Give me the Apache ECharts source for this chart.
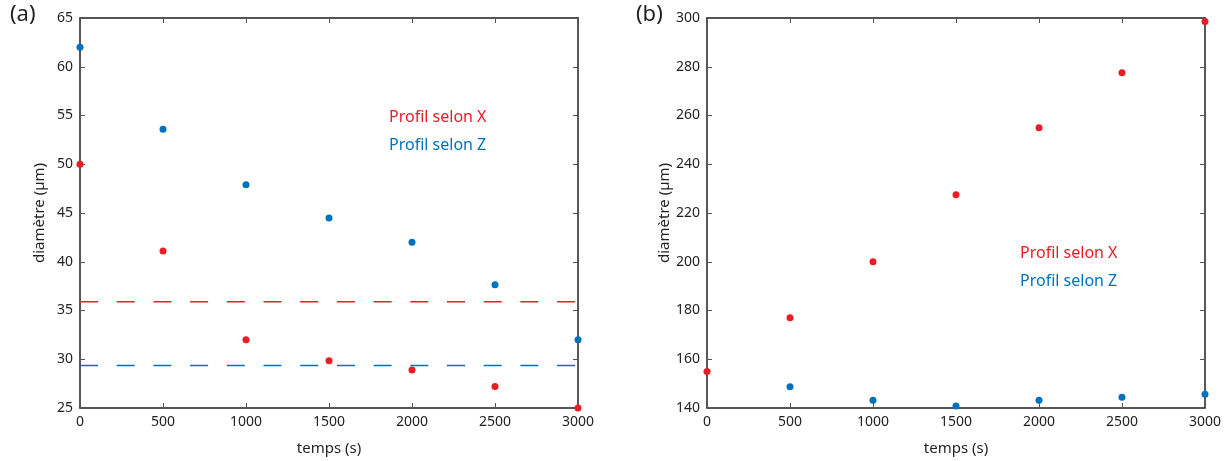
<!DOCTYPE html>
<html>
<head>
<meta charset="utf-8">
<style>
  html, body { margin: 0; padding: 0; background: #fff; }
  #chart { width: 1225px; height: 461px; }
</style>
<script src="https://cdn.jsdelivr.net/npm/echarts@6/dist/echarts.min.js"></script>
</head>
<body>
<div id="chart"></div>
<script>
// temps (s)
var temps = [0, 500, 1000, 1500, 2000, 2500, 3000];

// (a) diametre (um)
var aProfilX = [50.0, 41.1, 32.0, 29.85, 28.9, 27.2, 25.0];
var aProfilZ = [62.0, 53.6, 47.9, 44.5, 42.0, 37.65, 32.0];
var aNiveauX = 35.9;
var aNiveauZ = 29.35;

// (b) diametre (um)
var bProfilX = [155, 177, 200, 227.5, 255, 277.5, 298.6];
var bTempsZ = [500, 1000, 1500, 2000, 2500, 3000];
var bProfilZ = [148.7, 143.2, 140.8, 143.2, 144.4, 145.6];

var ROUGE = '#ed1c24';
var BLEU = '#0072bd';
var NOIR = '#231f20';
var FONT = 'Noto Sans';

function pts (xs, ys) {
  var out = [];
  for (var i = 0; i < ys.length; i++) out.push([xs[i], ys[i]]);
  return out;
}

function xAxe (grid, pos, nom) {
  return {
    type: 'value', gridIndex: grid, position: pos,
    min: 0, max: 3000, interval: 500,
    name: nom, nameLocation: 'middle', nameGap: 33,
    nameTextStyle: { fontFamily: FONT, fontSize: 15, color: NOIR },
    axisLine: { show: true, onZero: false, lineStyle: { color: NOIR, width: 1.5 } },
    axisTick: { show: true, inside: true, length: 5, lineStyle: { color: '#555' } },
    axisLabel: {
      show: pos === 'bottom', margin: 7, fontFamily: FONT, fontSize: 14, color: NOIR,
      formatter: function (v) { return String(v); }
    },
    splitLine: { show: false }
  };
}

function yAxe (grid, pos, min, max, step, nom) {
  return {
    type: 'value', gridIndex: grid, position: pos,
    min: min, max: max, interval: step,
    name: nom, nameLocation: 'middle', nameGap: pos === 'left' ? 33 : 0,
    nameTextStyle: { fontFamily: FONT, fontSize: 15, color: NOIR },
    axisLine: { show: true, onZero: false, lineStyle: { color: NOIR, width: 1.5 } },
    axisTick: { show: true, inside: true, length: 5, lineStyle: { color: '#555' } },
    axisLabel: { show: pos === 'left', margin: 7, fontFamily: FONT, fontSize: 14, color: NOIR },
    splitLine: { show: false }
  };
}

function nuage (xi, yi, data, couleur) {
  return {
    type: 'scatter', xAxisIndex: xi, yAxisIndex: yi,
    data: data, symbolSize: 7, clip: false,
    itemStyle: { color: couleur, opacity: 1 }
  };
}

function niveau (xi, yi, v, couleur) {
  return {
    type: 'line', xAxisIndex: xi, yAxisIndex: yi,
    data: [[0, v], [2985, v]], symbol: 'none', silent: true,
    lineStyle: { color: couleur, width: 1.5, type: [18, 18.7] }
  };
}

function texte (x, y, t, couleur, taille) {
  return {
    type: 'text', left: x, top: y,
    style: { text: t, fill: couleur, fontFamily: FONT, fontSize: taille }
  };
}

var myChart = echarts.init(document.getElementById('chart'));
myChart.setOption({
  animation: false,
  grid: [
    { left: 80, top: 18, width: 498, height: 391 },
    { left: 707, top: 18, width: 498, height: 391 }
  ],
  xAxis: [
    xAxe(0, 'bottom', 'temps (s)'),
    xAxe(0, 'top', ''),
    xAxe(1, 'bottom', 'temps (s)'),
    xAxe(1, 'top', '')
  ],
  yAxis: [
    yAxe(0, 'left', 25, 65, 5, 'diamètre (µm)'),
    yAxe(0, 'right', 25, 65, 5, ''),
    yAxe(1, 'left', 140, 300, 20, 'diamètre (µm)'),
    yAxe(1, 'right', 140, 300, 20, '')
  ],
  graphic: [
    texte(10, 4, '(a)', NOIR, 22),
    texte(636, 4, '(b)', NOIR, 22),
    texte(389, 109, 'Profil selon X', ROUGE, 16),
    texte(389, 137, 'Profil selon Z', BLEU, 16),
    texte(1020, 245, 'Profil selon X', ROUGE, 16),
    texte(1020, 273, 'Profil selon Z', BLEU, 16)
  ],
  series: [
    niveau(0, 0, aNiveauX, ROUGE),
    niveau(0, 0, aNiveauZ, BLEU),
    nuage(0, 0, pts(temps, aProfilX), ROUGE),
    nuage(0, 0, pts(temps, aProfilZ), BLEU),
    nuage(2, 2, pts(temps, bProfilX), ROUGE),
    nuage(2, 2, pts(bTempsZ, bProfilZ), BLEU)
  ]
});
</script>
</body>
</html>
